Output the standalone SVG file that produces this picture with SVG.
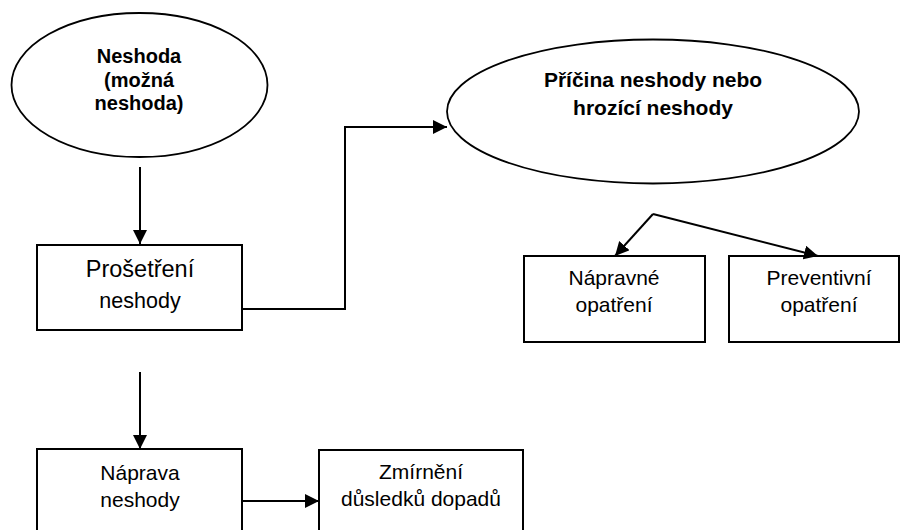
<svg xmlns="http://www.w3.org/2000/svg" width="901" height="530" viewBox="0 0 901 530">
  <defs>
    <marker id="arrow" markerUnits="userSpaceOnUse" markerWidth="15" markerHeight="15" refX="14" refY="7" orient="auto">
      <path d="M0,0 L14,7 L0,14 Z" fill="#000"/>
    </marker>
    <style>
      .shape { fill: #fff; stroke: #000; stroke-width: 2; }
      .oval { fill: #fff; stroke: #000; stroke-width: 1.8; }
      .link { fill: none; stroke: #000; stroke-width: 2; marker-end: url(#arrow); }
      .bold { font-family: "Liberation Sans", Arial, sans-serif; font-weight: bold; font-size: 20px; text-anchor: middle; fill: #000; }
      .label { font-family: "Liberation Sans", Arial, sans-serif; font-size: 21px; text-anchor: middle; fill: #000; }
    </style>
  </defs>
  <rect width="901" height="530" fill="#fff"/>

  <g id="neshoda">
    <ellipse class="oval" cx="139.5" cy="85" rx="128" ry="72"/>
    <text class="bold" x="139" y="63">Neshoda</text>
    <text class="bold" x="139" y="87">(možná</text>
    <text class="bold" x="139" y="110">neshoda)</text>
  </g>

  <g id="pricina">
    <ellipse class="oval" cx="653" cy="111.5" rx="206" ry="72"/>
    <text class="bold" x="653" y="87" style="font-size:21px">Příčina neshody nebo</text>
    <text class="bold" x="653" y="115" style="font-size:21px">hrozící neshody</text>
  </g>

  <g id="proseteni">
    <rect class="shape" x="37" y="245" width="205" height="85"/>
    <text class="label" x="140" y="277" style="font-size:23.5px">Prošetření</text>
    <text class="label" x="140" y="308" style="font-size:21.5px">neshody</text>
  </g>

  <g id="napravne">
    <rect class="shape" x="524" y="256" width="181" height="86"/>
    <text class="label" x="614" y="285">Nápravné</text>
    <text class="label" x="614" y="312">opatření</text>
  </g>

  <g id="preventivni">
    <rect class="shape" x="729" y="256" width="170" height="86"/>
    <text class="label" x="819" y="285">Preventivní</text>
    <text class="label" x="819" y="312">opatření</text>
  </g>

  <g id="naprava">
    <rect class="shape" x="37" y="449" width="205" height="95"/>
    <text class="label" x="140" y="480">Náprava</text>
    <text class="label" x="140" y="507">neshody</text>
  </g>

  <g id="zmirneni">
    <rect class="shape" x="319" y="450" width="204" height="95"/>
    <text class="label" x="421" y="479">Zmírnění</text>
    <text class="label" x="421" y="506">důsledků dopadů</text>
  </g>

  <g id="connectors">
    <line class="link" x1="140" y1="167" x2="140" y2="244"/>
    <polyline class="link" points="242,309 345,309 345,127 447,127"/>
    <line class="link" x1="653" y1="214" x2="615" y2="256"/>
    <line class="link" x1="653" y1="214" x2="818" y2="256"/>
    <line class="link" x1="140" y1="372" x2="140" y2="449"/>
    <line class="link" x1="242" y1="501" x2="319" y2="501"/>
  </g>
</svg>
